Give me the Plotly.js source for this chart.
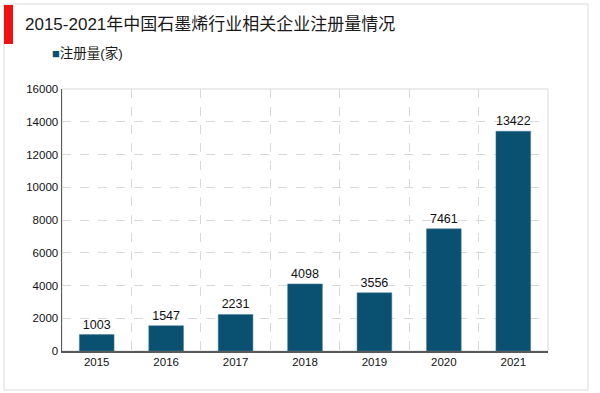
<!DOCTYPE html>
<html>
<head>
<meta charset="utf-8">
<script src="https://cdn.plot.ly/plotly-3.0.1.min.js"></script>
<style>html,body{margin:0;padding:0;background:#fff;}#chart{width:600px;height:393px;}</style>
</head>
<body>
<div id="chart"></div>
<script>
const years = ['2015','2016','2017','2018','2019','2020','2021'];
const registrations = [1003, 1547, 2231, 4098, 3556, 7461, 13422];
const seriesName = '注册量(家)';
const chartTitle = '2015-2021年中国石墨烯行业相关企业注册量情况';
const yTicks = [0, 2000, 4000, 6000, 8000, 10000, 12000, 14000, 16000];

const W = 600, H = 393;
const m = {l: 62, r: 52, t: 89, b: 42};
const pw = W - m.l - m.r, ph = H - m.t - m.b;
const px = v => (v - m.l) / pw;
const py = v => (H - m.b - v) / ph;

const font = 'Arial, "Liberation Sans", "Noto Sans CJK SC", sans-serif';
const mixed = '"Liberation Sans", Arial, "Noto Sans CJK SC", sans-serif';
const barColor = '#0a5070';

const trace = {
  type: 'bar',
  x: years,
  y: registrations,
  name: seriesName,
  marker: {color: barColor, line: {color: '#4a7f96', width: 0.5}},
  width: 0.5,
  text: registrations.map(String),
  textposition: 'outside',
  textfont: {family: font, size: 12.5, color: '#111'},
  cliponaxis: false,
  showlegend: false
};

const layout = {
  width: W, height: H,
  margin: m,
  paper_bgcolor: '#fff',
  plot_bgcolor: '#fff',
  title: {
    text: chartTitle,
    x: 25 / W, xanchor: 'left', xref: 'container',
    y: 1 - 24 / H, yanchor: 'middle', yref: 'container',
    font: {family: mixed, size: 17, color: '#1a1a1a'}
  },
  showlegend: false,
  bargap: 0.5,
  xaxis: {
    type: 'category',
    showgrid: false,
    showline: true, linecolor: '#595959', linewidth: 1.5,
    ticks: '',
    tickfont: {family: font, size: 11.5, color: '#111'},
    fixedrange: true
  },
  xaxis2: {
    overlaying: 'x',
    range: [-0.5, 6.5],
    tickvals: [0.5, 1.5, 2.5, 3.5, 4.5, 5.5],
    showticklabels: false,
    showgrid: true, gridcolor: '#d9d9d9', griddash: 'dash', gridwidth: 1,
    zeroline: false, showline: false, ticks: '',
    fixedrange: true
  },
  yaxis: {
    range: [0, 16000],
    tickvals: yTicks,
    ticktext: yTicks.map(String),
    showgrid: true, gridcolor: '#d9d9d9', griddash: 'dash', gridwidth: 1,
    zeroline: false,
    showline: true, linecolor: '#595959', linewidth: 1.5,
    ticks: '',
    tickfont: {family: font, size: 11.5, color: '#111'},
    fixedrange: true
  },
  annotations: [
    {xref: 'paper', yref: 'paper', x: px(50), y: py(53), xanchor: 'left', yanchor: 'middle',
     showarrow: false,
     text: '<span style="color:' + barColor + ';font-size:13px">■</span>' + seriesName,
     font: {family: mixed, size: 13.5, color: '#1a1a1a'}}
  ],
  shapes: [
    {type: 'rect', xref: 'paper', yref: 'paper', x0: px(4), x1: px(588), y0: py(390), y1: py(4),
     line: {color: '#dcdcdc', width: 1}, fillcolor: 'rgba(0,0,0,0)', layer: 'below'},
    {type: 'rect', xref: 'paper', yref: 'paper', x0: 0, x1: 1, y0: 0, y1: 1,
     line: {color: '#d9d9d9', width: 1}, fillcolor: 'rgba(0,0,0,0)', layer: 'below'},
    {type: 'rect', xref: 'paper', yref: 'paper', x0: px(4), x1: px(13), y0: py(44), y1: py(5),
     line: {width: 0}, fillcolor: '#ee1111', layer: 'above'}
  ]
};

// empty trace that activates xaxis2 for the vertical dashed gridlines between categories
const gridTrace = {type: 'scatter', x: [], y: [], xaxis: 'x2', yaxis: 'y', showlegend: false, hoverinfo: 'skip'};

Plotly.newPlot('chart', [trace, gridTrace], layout, {displayModeBar: false, staticPlot: true});
</script>
</body>
</html>
